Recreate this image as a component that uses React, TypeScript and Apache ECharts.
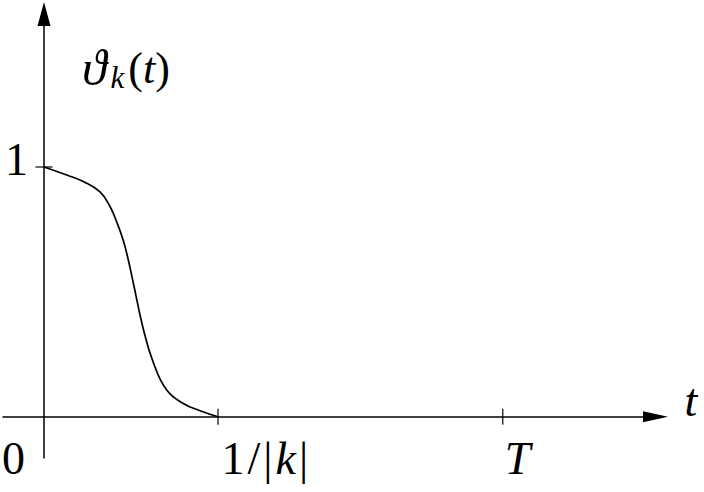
import React, { useEffect, useRef } from 'react';
import * as echarts from 'echarts';

// curve samples: t (in units of 1/|k|) and value
const curveT = [0, 0.1305, 0.2259, 0.3218, 0.3793, 0.4178, 0.4557, 0.4845, 0.5132, 0.5707, 0.6282, 0.7052, 0.8006, 0.8966, 1.0];
const curveV = [1.0, 0.968, 0.9419, 0.8999, 0.8418, 0.7797, 0.7057, 0.6276, 0.5354, 0.3512, 0.2171, 0.1069, 0.0529, 0.024, 0.0];

const xTickValues = [1, 2.636];
const xTickLabels = ['1/|k|', 'T'];
const yTickValues = [1];
const yTickLabels = ['1'];
const originValue = [0];
const originLabel = ['0'];
const xName = 't';
const yNameMain = 'ϑ';
const yNameSub = 'k';
const yNameArg = 't';

const xMin = -0.2356;
const xMax = 3.514;
const yMin = -0.1654;
const yMax = 1.6127;

const FONT = "'Liberation Serif', 'DejaVu Serif', serif";
const FS = 46;

const richStyles = {
  n: { fontFamily: FONT, fontSize: FS, color: '#000' },
  i: { fontFamily: FONT, fontSize: FS, fontStyle: 'italic', color: '#000' },
  ns: { fontFamily: FONT, fontSize: FS, color: '#000', padding: [0, 1.5, 0, 1.5] },
  is: { fontFamily: FONT, fontSize: FS, fontStyle: 'italic', color: '#000', padding: [0, 1.5, 0, 1.5] },
};

function toRich(s: string): string {
  const chars = Array.from(s);
  const spaced = chars.length > 1;
  let out = '';
  for (const ch of chars) {
    const italic = /[a-zA-Z]/.test(ch);
    const name = (italic ? 'i' : 'n') + (spaced ? 's' : '');
    out += `{${name}|${ch}}`;
  }
  return out;
}

function labelFor(values: number[], labels: string[], v: number): string {
  let best = 0;
  for (let i = 1; i < values.length; i++) {
    if (Math.abs(values[i] - v) < Math.abs(values[best] - v)) best = i;
  }
  return toRich(labels[best]);
}

export default function App() {
  const ref = useRef<HTMLDivElement>(null);
  useEffect(() => {
    if (!ref.current) return;
    const chart = echarts.init(ref.current, null, { renderer: 'svg' });
    const axisLineStyle = { color: '#000', width: 1.5 };
    const gridLeft = 3;
    const gridRight = 48.5;
    const gridTop = 14;
    const gridBottom = 34;
    const gridH = 492 - gridTop - gridBottom;
    const gridW = 704 - gridLeft - gridRight;
    // offsets that put each axis line through the other axis' zero
    const xAxisOffset = -((0 - yMin) / (yMax - yMin)) * gridH;
    const yAxisOffset = -((0 - xMin) / (xMax - xMin)) * gridW;
    const option: any = {
      animation: false,
      backgroundColor: '#fff',
      grid: {
        left: gridLeft,
        right: gridRight,
        top: gridTop,
        bottom: gridBottom,
        containLabel: false,
        outerBoundsMode: 'none',
      },
      xAxis: [
        {
          type: 'value',
          min: xMin,
          max: xMax,
          position: 'bottom',
          offset: xAxisOffset,
          axisLine: {
            show: true,
            onZero: false,
            symbol: ['none', 'triangle'],
            symbolSize: [11, 25],
            lineStyle: axisLineStyle,
          },
          axisTick: { show: false },
          splitLine: { show: false },
          axisLabel: {
            customValues: xTickValues,
            formatter: (v: number) => labelFor(xTickValues, xTickLabels, v),
            align: 'left',
            verticalAlign: 'top',
            margin: 19,
            padding: [0, 0, 0, 2],
            rich: richStyles,
          },
          name: `{i|${xName}}`,
          nameLocation: 'end',
          nameGap: 29,
          nameTextStyle: {
            align: 'left',
            verticalAlign: 'middle',
            padding: [0, 0, 32, 0],
            rich: richStyles,
          },
        },
        {
          type: 'value',
          min: xMin,
          max: xMax,
          position: 'bottom',
          offset: xAxisOffset,
          axisLine: { show: false, onZero: false },
          axisTick: { show: false },
          splitLine: { show: false },
          axisLabel: {
            customValues: originValue,
            formatter: (v: number) => labelFor(originValue, originLabel, v),
            align: 'right',
            verticalAlign: 'top',
            margin: 19,
            padding: [0, 19, 0, 0],
            rich: richStyles,
          },
        },
      ],
      yAxis: {
        type: 'value',
        min: yMin,
        max: yMax,
        position: 'left',
        offset: yAxisOffset,
        axisLine: {
          show: true,
          onZero: false,
          symbol: ['none', 'triangle'],
          symbolSize: [13, 24],
          lineStyle: axisLineStyle,
        },
        axisTick: { show: false },
        splitLine: { show: false },
        axisLabel: {
          customValues: yTickValues,
          formatter: (v: number) => labelFor(yTickValues, yTickLabels, v),
          align: 'right',
          verticalAlign: 'middle',
          margin: 16,
          padding: [0, 0, 14, 0],
          rich: richStyles,
        },
        name: `{g|${yNameMain}}{sub|${yNameSub}}{p|(}{pi|${yNameArg}}{p|)}`,
        nameLocation: 'end',
        nameGap: -54,
        nameTextStyle: {
          align: 'left',
          verticalAlign: 'middle',
          padding: [0, 0, 0, 38],
          rich: {
            g: { fontFamily: FONT, fontSize: 50, fontStyle: 'italic', color: '#000', lineHeight: 50, padding: [0, 4, 0, 0] },
            p: { fontFamily: FONT, fontSize: 44, color: '#000', lineHeight: 50 },
            pi: { fontFamily: FONT, fontSize: 44, fontStyle: 'italic', color: '#000', lineHeight: 50 },
            sub: {
              fontFamily: FONT,
              fontSize: 31,
              fontStyle: 'italic',
              color: '#000',
              lineHeight: 40,
              verticalAlign: 'bottom',
              padding: [0, 4, 0, 0],
            },
          },
        },
      },
      series: [
        {
          type: 'line',
          xAxisIndex: 0,
          data: curveT.map((t, i) => [t, curveV[i]]),
          smooth: 0.45,
          showSymbol: false,
          lineStyle: { color: '#000', width: 1.7 },
          silent: true,
        },
        {
          type: 'scatter',
          xAxisIndex: 0,
          data: xTickValues.map((t) => [t, 0]),
          symbol: 'rect',
          symbolSize: [1.5, 16],
          itemStyle: { color: '#000' },
          silent: true,
        },
        {
          type: 'scatter',
          xAxisIndex: 0,
          data: yTickValues.map((v) => [0, v]),
          symbol: 'rect',
          symbolSize: [17, 1.5],
          itemStyle: { color: '#000' },
          silent: true,
        },
      ],
    };
    chart.setOption(option);
    return () => chart.dispose();
  }, []);
  return (
    <div
      ref={ref}
      style={{ position: 'fixed', left: 0, top: 0, width: 704, height: 492, background: '#fff' }}
    />
  );
}
